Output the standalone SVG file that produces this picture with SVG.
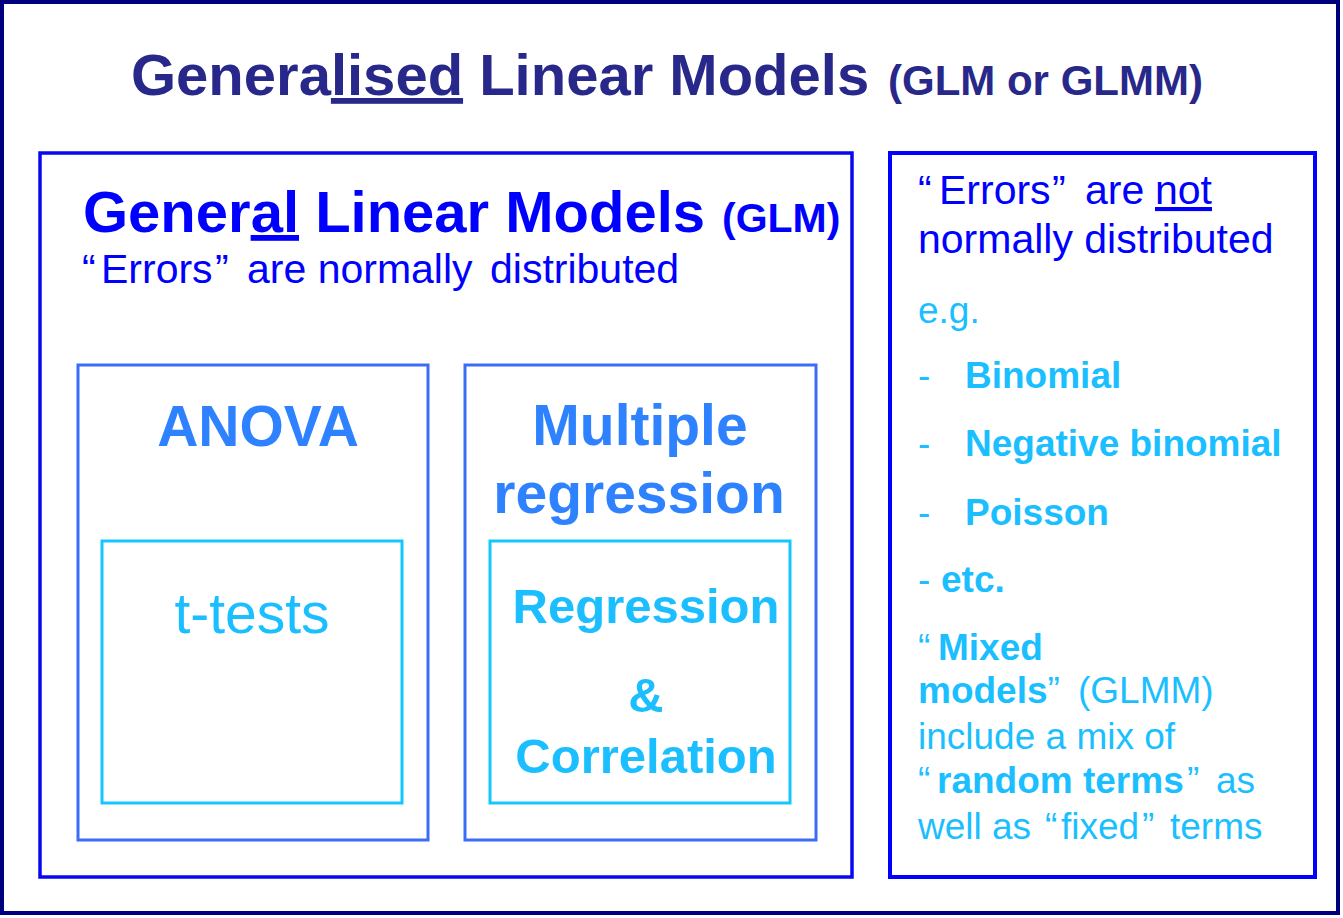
<svg xmlns="http://www.w3.org/2000/svg" width="1343" height="918" viewBox="0 0 1343 918">
<style>
text{font-family:"Liberation Sans",Arial,sans-serif}
.b{font-weight:bold}
.frame{fill:none}
.u{text-decoration:underline}
.navy{fill:#28288a}
.blue{fill:#0000ff}
.mid{fill:#2f82ff}
.cyan{fill:#1bbfff}
</style>
<rect width="1343" height="918" fill="#ffffff"/>
<g id="glmm">
<rect class="frame" x="2" y="2" width="1336" height="911" stroke="#00007e" stroke-width="4"/>
<text class="navy b" x="131" y="95" font-size="58">Genera<tspan class="u">lised</tspan> Linear Models<tspan x="888" font-size="42">(GLM or GLMM)</tspan></text>
</g>
<g id="general-linear-models">
<rect class="frame" x="40" y="153" width="812" height="724" stroke="#0808f0" stroke-width="3.5"/>
<text class="blue b" x="83" y="232" font-size="58">Gener<tspan class="u">al</tspan> Linear Models<tspan x="722" font-size="41">(GLM)</tspan></text>
<text class="blue" x="82" y="283" font-size="41">“<tspan x="101">Errors</tspan><tspan x="215">”</tspan><tspan x="247">are normally</tspan><tspan x="490">distributed</tspan></text>
</g>
<g id="anova">
<rect class="frame" x="78" y="365" width="350" height="475" stroke="#3a6cf8" stroke-width="3"/>
<text class="mid b" x="258" y="446" font-size="57" text-anchor="middle">ANOVA</text>
</g>
<g id="t-tests">
<rect class="frame" x="102" y="541" width="300" height="262" stroke="#14c6ff" stroke-width="3"/>
<text class="cyan" x="252" y="633" font-size="57" text-anchor="middle">t-tests</text>
</g>
<g id="multiple-regression">
<rect class="frame" x="465" y="365" width="351" height="475" stroke="#3a6cf8" stroke-width="3"/>
<text class="mid b" x="640" y="445" font-size="57" text-anchor="middle">Multiple</text>
<text class="mid b" x="639" y="513" font-size="57" text-anchor="middle">regression</text>
</g>
<g id="regression-correlation">
<rect class="frame" x="490" y="541" width="300" height="262" stroke="#14c6ff" stroke-width="3"/>
<text class="cyan b" x="646" y="623" font-size="49" text-anchor="middle">Regression</text>
<text class="cyan b" x="646" y="712" font-size="49" text-anchor="middle">&amp;</text>
<text class="cyan b" x="646" y="773" font-size="49" text-anchor="middle">Correlation</text>
</g>
<g id="non-normal-errors">
<rect class="frame" x="890" y="153" width="425" height="724" stroke="#0000ff" stroke-width="4"/>
<text class="blue" x="918" y="204" font-size="41">“<tspan x="939">Errors</tspan><tspan x="1052">”</tspan><tspan x="1085">are</tspan><tspan x="1155" class="u">not</tspan></text>
<text class="blue" x="918" y="253" font-size="41">normally distributed</text>
<text class="cyan" x="918" y="323" font-size="37">e.g.</text>
<text class="cyan" x="918" y="388" font-size="37">-<tspan x="965" class="b">Binomial</tspan></text>
<text class="cyan" x="918" y="456" font-size="37">-<tspan x="965" class="b">Negative binomial</tspan></text>
<text class="cyan" x="918" y="525" font-size="37">-<tspan x="965" class="b">Poisson</tspan></text>
<text class="cyan" x="918" y="592" font-size="37">-<tspan x="941" class="b">etc.</tspan></text>
<text class="cyan" x="918" y="660" font-size="37">“<tspan x="938" class="b">Mixed</tspan></text>
<text class="cyan" x="918" y="703" font-size="37"><tspan class="b">models</tspan>”<tspan x="1078">(GLMM)</tspan></text>
<text class="cyan" x="918" y="749" font-size="37">include a mix of</text>
<text class="cyan" x="918" y="793" font-size="37">“<tspan x="937" class="b">random terms</tspan><tspan x="1187">”</tspan><tspan x="1216">as</tspan></text>
<text class="cyan" x="918" y="839" font-size="37">well as<tspan x="1045">“</tspan><tspan x="1061">fixed</tspan><tspan x="1142">”</tspan><tspan x="1170">terms</tspan></text>
</g>
</svg>
